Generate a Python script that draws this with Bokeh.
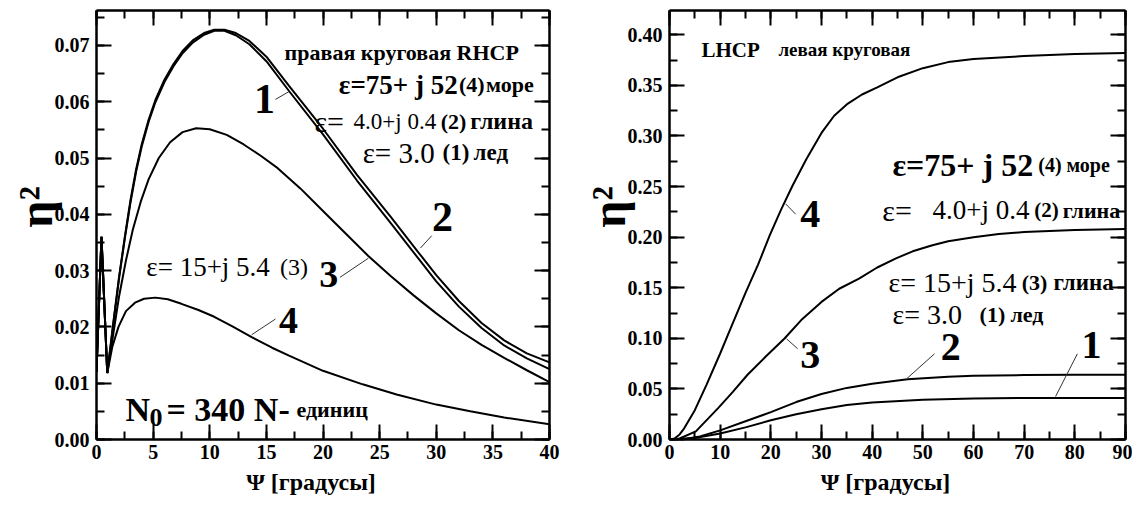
from bokeh.plotting import figure
from bokeh.models import (Range1d, LinearAxis, SingleIntervalTicker, PrintfTickFormatter,
                          Label, ColumnDataSource)
from bokeh.layouts import row
from bokeh.embed import file_html
from bokeh.resources import INLINE

FONT = "Liberation Serif"
NB = "\u00a0"

# ---------------- Left panel (RHCP) data ----------------
L1_x = [0, 0.44, 0.95, 1.5, 2.0, 2.5, 3.0, 3.5, 4.0, 4.6, 5.2, 6.0, 6.8, 7.6, 8.5, 9.5, 10.4,
        11.3, 12.3, 13.5, 15, 17, 20, 23, 26, 28.4, 30, 32, 34, 36, 38, 40]
L1_y = [0.012, 0.036, 0.0118, 0.0208, 0.0287, 0.0357, 0.0421, 0.0476, 0.0521, 0.0564, 0.0599,
        0.0635, 0.0663, 0.0686, 0.0705, 0.0719, 0.0726, 0.0726, 0.0718, 0.0702, 0.0672, 0.0619,
        0.0542, 0.0460, 0.0384, 0.0322, 0.0281, 0.0236, 0.0198, 0.0167, 0.0144, 0.0125]
L2_x = L1_x
L2_y = [0.012, 0.036, 0.0118, 0.0210, 0.0290, 0.0360, 0.0425, 0.0480, 0.0525, 0.0568, 0.0603,
        0.0639, 0.0667, 0.0690, 0.0709, 0.0722, 0.0728, 0.0728, 0.0722, 0.0708, 0.0680, 0.0628,
        0.0552, 0.0470, 0.0395, 0.0333, 0.0292, 0.0246, 0.0207, 0.0176, 0.0153, 0.0137]
L3_x = [0, 0.44, 0.95, 1.5, 2.0, 2.6, 3.2, 3.9, 4.6, 5.5, 6.5, 7.6, 8.8, 10, 11.5, 13, 14.5,
        16, 18, 20, 22, 24, 26, 28, 30, 32, 34, 36, 38, 40]
L3_y = [0.012, 0.036, 0.0118, 0.0190, 0.0255, 0.0318, 0.0372, 0.0422, 0.0462, 0.0500, 0.0528,
        0.0546, 0.0553, 0.0551, 0.0541, 0.0524, 0.0504, 0.0482, 0.0446, 0.0406, 0.0366, 0.0326,
        0.0290, 0.0256, 0.0224, 0.0194, 0.0168, 0.0145, 0.0123, 0.0102]
L4_x = [0, 0.44, 0.95, 1.4, 1.94, 2.6, 3.4, 4.2, 5.2, 6.3, 7.5, 9, 10.4, 12, 13.7, 15.5, 17,
        20, 23.5, 26.5, 30, 33, 36, 40]
L4_y = [0.012, 0.036, 0.0118, 0.0165, 0.0200, 0.0228, 0.0243, 0.0250, 0.0252, 0.0249, 0.0241,
        0.0230, 0.0218, 0.0201, 0.0182, 0.0163, 0.0149, 0.0122, 0.0098, 0.0080, 0.0062, 0.0050,
        0.0039, 0.0027]

# ---------------- Right panel (LHCP) data ----------------
R4_x = [0, 1, 2, 2.9, 5, 7.3, 10, 12, 15, 17.5, 19.8, 22, 24.3, 27, 30, 32.5, 35.2, 38, 41,
        45, 50, 55, 60, 70, 80, 90]
R4_y = [0, 0.001, 0.005, 0.011, 0.029, 0.054, 0.085, 0.109, 0.145, 0.173, 0.202, 0.227, 0.251,
        0.277, 0.303, 0.320, 0.332, 0.341, 0.348, 0.358, 0.367, 0.373, 0.376, 0.379, 0.381, 0.382]
R3_x = [0, 2, 5.2, 9.6, 12.5, 15.4, 19, 22.7, 26, 30, 33.5, 37.4, 41, 44.7, 48, 51.9, 55, 60,
        65, 70, 75, 80, 85, 90]
R3_y = [0, 0.001, 0.008, 0.031, 0.047, 0.064, 0.082, 0.0998, 0.118, 0.136, 0.149, 0.159, 0.170,
        0.179, 0.186, 0.192, 0.196, 0.200, 0.203, 0.205, 0.206, 0.207, 0.2075, 0.208]
R2_x = [0, 3, 6, 10, 15, 20, 25, 30, 35, 40, 47, 55, 60, 70, 80, 90]
R2_y = [0, 0.0005, 0.003, 0.009, 0.018, 0.027, 0.037, 0.045, 0.051, 0.055, 0.0595, 0.062,
        0.063, 0.0637, 0.064, 0.064]
R1_x = [0, 5, 10, 15, 20, 25, 30, 35, 40, 50, 60, 70, 80, 90]
R1_y = [0, 0.0015, 0.006, 0.012, 0.019, 0.025, 0.030, 0.034, 0.0365, 0.0393, 0.0405, 0.041,
        0.041, 0.041]

L_xticks_interval = 5
L_yticks_interval = 0.01
R_xticks_interval = 10
R_yticks_interval = 0.05

X_LABEL = "Ψ  [градусы]" + NB * 3
Y_LABEL = NB * 3 + "η²"


def style_axis(ax, labels=True):
    ax.axis_line_width = 2.5
    ax.axis_line_color = "black"
    ax.major_tick_in = 15
    ax.major_tick_out = 0
    ax.minor_tick_in = 8
    ax.minor_tick_out = 0
    ax.major_tick_line_width = 2
    ax.minor_tick_line_width = 2
    ax.major_tick_line_color = "black"
    ax.minor_tick_line_color = "black"
    if labels:
        ax.major_label_text_font = FONT
        ax.major_label_text_font_style = "bold"
        ax.major_label_text_font_size = "20px"
        ax.major_label_text_color = "black"
        ax.axis_label_text_font = FONT
        ax.axis_label_text_font_style = "bold"
        ax.axis_label_text_color = "black"
    else:
        ax.major_label_text_font_size = "1px"
        ax.major_label_text_color = None
        ax.major_label_standoff = 0
        ax.axis_label = None


def make_fig(width, xr, yr, xint, yint, xfmt, yfmt, mbl, mbr, mbt, mbb):
    p = figure(width=width, height=502, x_range=Range1d(*xr), y_range=Range1d(*yr),
               output_backend="svg", toolbar_location=None,
               min_border_left=mbl, min_border_right=mbr, min_border_top=mbt, min_border_bottom=mbb)
    p.grid.visible = False
    p.outline_line_color = None
    p.background_fill_color = "white"
    p.border_fill_color = "white"
    xt = SingleIntervalTicker(interval=xint, num_minor_ticks=2)
    yt = SingleIntervalTicker(interval=yint, num_minor_ticks=2)
    bottom = p.xaxis[0]
    left = p.yaxis[0]
    bottom.ticker = xt
    left.ticker = yt
    bottom.formatter = PrintfTickFormatter(format=xfmt)
    left.formatter = PrintfTickFormatter(format=yfmt)
    style_axis(bottom)
    style_axis(left)
    bottom.axis_label = X_LABEL
    bottom.axis_label_text_font_size = "24px"
    bottom.major_label_standoff = 5
    bottom.axis_label_standoff = 7
    left.axis_label = Y_LABEL
    left.axis_label_text_font_size = "48px"
    left.major_label_standoff = 7
    left.axis_label_standoff = -10
    top = LinearAxis(ticker=xt)
    right = LinearAxis(ticker=yt)
    style_axis(top, labels=False)
    style_axis(right, labels=False)
    p.add_layout(top, "above")
    p.add_layout(right, "right")
    return p


def lab(p, x, y, text, size, bold=True, align="left", baseline="alphabetic"):
    p.add_layout(Label(x=x, y=y, text=text, text_font=FONT, text_font_size=f"{size}px",
                       text_font_style="bold" if bold else "normal", text_color="black",
                       text_align=align, text_baseline=baseline))


def leaders(p, x0, y0, x1, y1):
    src = ColumnDataSource(dict(x0=x0, y0=y0, x1=x1, y1=y1))
    p.segment("x0", "y0", "x1", "y1", source=src, line_color="#333333", line_width=1)


# ---------------- Left figure ----------------
p1 = make_fig(575, (0, 40), (0, 0.0762), L_xticks_interval, L_yticks_interval, "%d", "%.2f",
              96, 26, 5, 63)
for xs, ys in [(L1_x, L1_y), (L2_x, L2_y), (L3_x, L3_y), (L4_x, L4_y)]:
    p1.line(xs, ys, line_color="black", line_width=2)

lab(p1, 37.3, 0.0688, "правая круговая RHCP", 22, align="right")
lab(p1, 21.4, 0.0630, "ε=75+ j 52", 27)
lab(p1, 32.0, 0.0630, "(4)", 22)
lab(p1, 34.4, 0.0630, "море", 22)
lab(p1, 19.25, 0.0565, "ε=", 30, bold=False)
lab(p1, 22.7, 0.0565, "4.0+j 0.4", 23, bold=False)
lab(p1, 30.4, 0.0565, "(2)", 22)
lab(p1, 33.0, 0.0565, "глина", 24)
lab(p1, 23.5, 0.0509, "ε= 3.0", 29, bold=False)
lab(p1, 30.55, 0.0509, "(1)", 23)
lab(p1, 33.3, 0.0509, "лед", 23)
lab(p1, 4.4, 0.0307, "ε= 15+j 5.4", 27, bold=False)
lab(p1, 16.2, 0.0307, "(3)", 24, bold=False)
lab(p1, 2.56, 0.00526, "N", 34)
lab(p1, 4.68, 0.00386, "0", 26)
lab(p1, 6.18, 0.00526, "= 340 N-", 34)
lab(p1, 17.66, 0.00526, "единиц", 22)
lab(p1, 14.83, 0.0604, "1", 42, align="center", baseline="middle")
lab(p1, 30.55, 0.0395, "2", 42, align="center", baseline="middle")
lab(p1, 20.5, 0.0293, "3", 38, align="center", baseline="middle")
lab(p1, 16.95, 0.0212, "4", 38, align="center", baseline="middle")
leaders(p1, [15.8, 28.6, 21.5, 15.8], [0.0604, 0.0340, 0.0288, 0.0214],
        [17.0, 29.6, 24.0, 13.7], [0.0618, 0.0362, 0.0322, 0.0186])

# ---------------- Right figure ----------------
p2 = make_fig(557, (0, 90), (0, 0.424), R_xticks_interval, R_yticks_interval, "%d", "%.2f",
              94, 7, 10, 62)
for xs, ys in [(R1_x, R1_y), (R2_x, R2_y), (R3_x, R3_y), (R4_x, R4_y)]:
    p2.line(xs, ys, line_color="black", line_width=2)

lab(p2, 6.3, 0.385, "LHCP", 21)
lab(p2, 21.5, 0.385, "левая круговая", 19)
lab(p2, 44.0, 0.271, "ε=75+ j 52", 32)
lab(p2, 72.8, 0.271, "(4)", 20)
lab(p2, 78.35, 0.271, "море", 20)
lab(p2, 42.0, 0.2266, "ε=", 30, bold=False)
lab(p2, 51.9, 0.2266, "4.0+j 0.4", 27, bold=False)
lab(p2, 72.0, 0.2266, "(2)", 21)
lab(p2, 77.6, 0.2266, "глина", 22)
lab(p2, 43.2, 0.1556, "ε= 15+j 5.4", 28, bold=False)
lab(p2, 69.5, 0.1556, "(3)", 22)
lab(p2, 75.8, 0.1556, "глина", 23)
lab(p2, 44.0, 0.1232, "ε= 3.0", 28, bold=False)
lab(p2, 61.2, 0.1232, "(1)", 22)
lab(p2, 67.3, 0.1232, "лед", 22)
lab(p2, 27.8, 0.2227, "4", 40, align="center", baseline="middle")
lab(p2, 27.8, 0.0837, "3", 40, align="center", baseline="middle")
lab(p2, 55.5, 0.0916, "2", 40, align="center", baseline="middle")
lab(p2, 83.3, 0.0936, "1", 40, align="center", baseline="middle")
leaders(p2, [24.9, 25.3, 52.3, 80.5], [0.2227, 0.0897, 0.0847, 0.0847],
        [22.9, 23.1, 46.8, 76.2], [0.233, 0.0995, 0.060, 0.0425])

layout = row(p1, p2)
open("out.html", "w").write(file_html(layout, INLINE))
